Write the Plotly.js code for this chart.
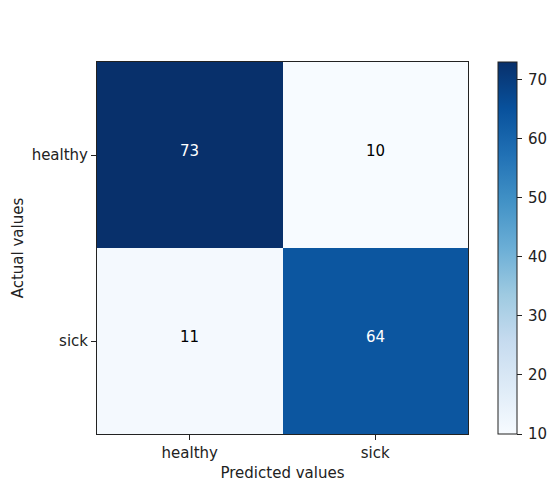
<!DOCTYPE html>
<html>
<head>
<meta charset="utf-8">
<script src="https://cdn.plot.ly/plotly-3.0.1.min.js"></script>
<style>
  html, body { margin: 0; padding: 0; background: #fff; }
  #chart { width: 548px; height: 482px; }
</style>
</head>
<body>
<div id="chart"></div>
<script>
// Confusion matrix: rows are actual classes, columns are predicted classes
const predictedLabels = ['healthy', 'sick'];
const actualLabels = ['healthy', 'sick'];
const countsHealthy = [73, 10];
const countsSick = [11, 64];
const colorbarTicks = [10, 20, 30, 40, 50, 60, 70];

const counts = [countsHealthy, countsSick];
const zMin = Math.min(...counts.flat());
const zMax = Math.max(...counts.flat());

// Sequential blue palette (light to dark)
const blues = [
  [0.0, '#f7fbff'], [0.125, '#deebf7'], [0.25, '#c6dbef'],
  [0.375, '#9ecae1'], [0.5, '#6baed6'], [0.625, '#4292c6'],
  [0.75, '#2171b5'], [0.875, '#08519c'], [1.0, '#08306b']
];

const font = 'DejaVu Sans, sans-serif';
const fs = 15;
const threshold = (zMin + zMax) / 2;

// Cell labels: white on dark cells, black on light cells
const annotations = [];
actualLabels.forEach((row, i) => {
  predictedLabels.forEach((col, j) => {
    const v = counts[i][j];
    annotations.push({
      x: col, y: row, text: String(v), showarrow: false, yshift: 4,
      font: { family: font, size: fs, color: v > threshold ? '#ffffff' : '#000000' }
    });
  });
});

const trace = {
  type: 'heatmap',
  x: predictedLabels,
  y: actualLabels,
  z: counts,
  zmin: zMin,
  zmax: zMax,
  colorscale: blues,
  hoverinfo: 'skip',
  colorbar: {
    x: 1.0809, xanchor: 'left', xpad: 0,
    y: 0.5, yanchor: 'middle', ypad: 0,
    len: 1, lenmode: 'fraction',
    thickness: 19, thicknessmode: 'pixels',
    outlinewidth: 1, outlinecolor: '#222',
    ticks: 'outside', ticklen: 5, tickcolor: '#222', tickwidth: 1,
    tickvals: colorbarTicks,
    ticktext: colorbarTicks.map(t => '\u2009' + t),
    tickfont: { family: font, size: fs, color: '#222' }
  }
};

const axisCommon = {
  showline: true, linecolor: '#222', linewidth: 1, mirror: true,
  ticks: 'outside', ticklen: 5, tickcolor: '#222', tickwidth: 1,
  showgrid: false, zeroline: false,
  tickfont: { family: font, size: fs, color: '#222' },
  type: 'category'
};

const layout = {
  width: 548, height: 482,
  margin: { l: 97, r: 80, t: 62, b: 48, autoexpand: false },
  paper_bgcolor: '#ffffff', plot_bgcolor: '#ffffff',
  font: { family: font, color: '#222' },
  xaxis: Object.assign({}, axisCommon, {
    title: { text: 'Predicted values', font: { family: font, size: fs, color: '#222' }, standoff: 6 }
  }),
  yaxis: Object.assign({}, axisCommon, {
    autorange: 'reversed',
    title: { text: 'Actual values', font: { family: font, size: fs, color: '#222' }, standoff: 4 }
  }),
  annotations: annotations
};

Plotly.newPlot('chart', [trace], layout, { displayModeBar: false, staticPlot: true });
</script>
</body>
</html>
